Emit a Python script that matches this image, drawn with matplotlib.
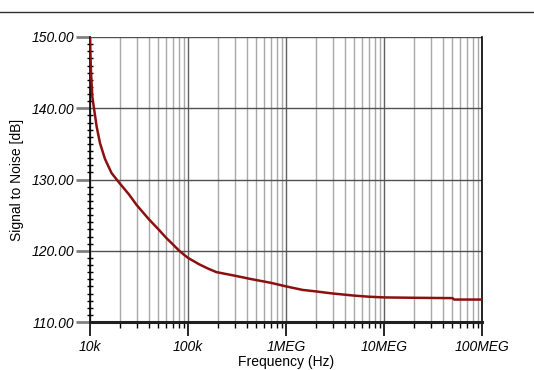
import matplotlib
matplotlib.use("Agg")
import matplotlib.pyplot as plt
from matplotlib.ticker import FixedLocator, NullFormatter
from matplotlib.lines import Line2D

# Data
freq_hz = [10e3, 10.1e3, 10.24e3, 10.56e3, 10.98e3, 11.7e3, 12.65e3, 14.2e3, 16.6e3,
           20e3, 25e3, 30e3, 40e3, 50e3, 60e3, 70e3, 80e3, 90e3, 100e3, 130e3, 160e3,
           195e3, 300e3, 427e3, 700e3, 1e6, 1.48e6, 2e6, 3e6, 5e6, 7e6, 10e6,
           20e6, 50e6, 52e6, 100e6]
snr_db = [150.0, 147.5, 145.0, 141.6, 140.0, 137.4, 135.1, 132.9, 130.9,
          129.5, 127.9, 126.4, 124.4, 123.0, 121.8, 120.9, 120.1, 119.5, 119.0, 118.1, 117.5,
          117.0, 116.5, 116.06, 115.5, 115.0, 114.5, 114.3, 114.0, 113.7, 113.55, 113.45,
          113.4, 113.35, 113.15, 113.15]

x_ticks = [1e4, 1e5, 1e6, 1e7, 1e8]
x_tick_labels = ["10k", "100k", "1MEG", "10MEG", "100MEG"]
y_ticks = [110, 120, 130, 140, 150]
y_tick_labels = ["110.00", "120.00", "130.00", "140.00", "150.00"]

plt.rcParams['font.family'] = ['Liberation Sans', 'DejaVu Sans']

fig = plt.figure(figsize=(5.34, 3.70), dpi=100)
ax = fig.add_axes([90/534, 1-322/370, (482-90)/534, (322-37)/370])

ax.set_xscale('log')
ax.set_xlim(1e4, 1e8)
ax.set_ylim(110, 150)

# grid
minor_x = [m * 10**e for e in range(4, 8) for m in range(2, 10)]
for xv in minor_x:
    ax.axvline(xv, color='#a8a8a8', lw=1.0, zorder=1)
for xv in x_ticks:
    ax.axvline(xv, color='#606060', lw=1.0, zorder=1)
for yv in y_ticks:
    ax.axhline(yv, color='#505050', lw=1.0, zorder=1)

ax.plot(freq_hz, snr_db, color='#8b1010', lw=1.8, zorder=3)

ax.xaxis.set_major_locator(FixedLocator(x_ticks))
ax.set_xticklabels(x_tick_labels, fontstyle='italic', fontsize=10)
ax.xaxis.set_minor_locator(FixedLocator(minor_x))
ax.xaxis.set_minor_formatter(NullFormatter())
ax.tick_params(axis='x', which='major', direction='out', length=10, width=1.2, color='black', pad=3)
ax.tick_params(axis='x', which='minor', direction='out', length=4, width=1.0, color='black')

ax.yaxis.set_major_locator(FixedLocator(y_ticks))
ax.set_yticklabels(y_tick_labels, fontstyle='italic', fontsize=10)
ax.yaxis.set_minor_locator(FixedLocator([v for v in range(110, 151) if v % 10 != 0]))
ax.tick_params(axis='y', which='major', direction='out', length=10, width=2, color='#808080', pad=1)
ax.tick_params(axis='y', which='minor', direction='inout', length=4, width=1.0, color='black')

for s in ['left', 'right']:
    ax.spines[s].set_color('black')
    ax.spines[s].set_linewidth(1.2)
ax.spines['bottom'].set_color('#202020')
ax.spines['bottom'].set_linewidth(2.2)
ax.spines['top'].set_visible(False)

ax.set_xlabel("Frequency (Hz)", fontsize=10, labelpad=1)
ax.set_ylabel("Signal to Noise [dB]", fontsize=10, labelpad=6)

fig.add_artist(Line2D([0, 1], [1-11.7/370, 1-11.7/370], color='#303030', lw=1.0,
                      transform=fig.transFigure))

fig.savefig("out.png", dpi=100)
